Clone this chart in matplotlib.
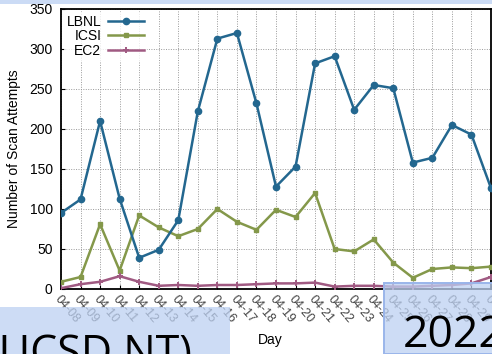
import matplotlib
matplotlib.use("Agg")
import matplotlib.pyplot as plt
from matplotlib.patches import Rectangle

plt.rcParams["font.family"] = ["Liberation Sans", "DejaVu Sans"]

days = ["04-08", "04-09", "04-10", "04-11", "04-12", "04-13", "04-14", "04-15",
        "04-16", "04-17", "04-18", "04-19", "04-20", "04-21", "04-22", "04-23",
        "04-24", "04-25", "04-26", "04-27", "04-28", "04-29", "04-30"]
lbnl = [95, 112, 210, 113, 39, 49, 86, 222, 313, 320, 232, 128, 153, 282, 291,
        224, 255, 251, 158, 164, 205, 193, 126]
icsi = [9, 15, 81, 23, 92, 77, 66, 75, 100, 84, 74, 99, 90, 120, 50, 47, 62, 33,
        14, 25, 27, 26, 28]
ec2 = [1, 6, 9, 16, 9, 4, 5, 4, 5, 5, 6, 7, 7, 8, 3, 4, 4, 3, 3, 4, 5, 7, 15]

fig = plt.figure(figsize=(4.92, 3.54), dpi=100)
ax = fig.add_axes([61 / 492, 65 / 354, 430 / 492, 280 / 354])

x = list(range(len(days)))
ax.plot(x, lbnl, color="#23678f", lw=1.8, marker="o", ms=4.5, label="LBNL", zorder=4)
ax.plot(x, icsi, color="#84984a", lw=1.8, marker="s", ms=3.2, label="ICSI", zorder=3)
ax.plot(x, ec2, color="#a05a82", lw=1.8, marker="+", ms=5, mew=1.4, label="EC2", zorder=3)

ax.set_xlim(0, len(days) - 1)
ax.set_ylim(0, 350)
ax.set_yticks(range(0, 351, 50))
ax.set_xticks(x)
ax.set_xticklabels(days, rotation=-50, ha="left", va="top",
                   rotation_mode="anchor", color="#444444", fontsize=9)
ax.tick_params(axis="y", labelsize=10, direction="in", length=3, pad=6)
ax.tick_params(axis="x", direction="in", length=3, pad=3)
ax.grid(True, color="#999999", linestyle=(0, (1, 1.5)), linewidth=0.7)
for s in ax.spines.values():
    s.set_linewidth(1.3)

ax.set_ylabel("Number of Scan Attempts", fontsize=10, labelpad=6)
fig.text(270 / 492, 1 - 340 / 354, "Day", ha="center", va="center", fontsize=10)

leg = ax.legend(loc="upper left", markerfirst=False, frameon=True, fontsize=10,
                handlelength=2.6, handletextpad=0.5, labelspacing=0.05,
                borderpad=0.2, borderaxespad=0.2, fancybox=False)
leg.get_frame().set_linewidth(0)

# banner strips and tags over the chart
fig.patches.append(Rectangle((0, 1 - 4 / 354), 1, 4 / 354, transform=fig.transFigure,
                             facecolor="#cbdbf5", edgecolor="none", zorder=10))
fig.patches.append(Rectangle((0, 0), 230 / 492, 47 / 354, transform=fig.transFigure,
                             facecolor=(0.74, 0.82, 0.95, 0.75), edgecolor="none", zorder=10))
fig.patches.append(Rectangle((384 / 492, 0), 110 / 492, 71 / 354, transform=fig.transFigure,
                             facecolor=(0.74, 0.82, 0.95, 0.75), edgecolor="#9ab5ea",
                             linewidth=1.4, zorder=10))
fig.text(-14 / 492, -12 / 354, "(UCSD NT)", family="Open Sans", fontsize=31,
         ha="left", va="baseline", color="black", zorder=11)
fig.text(403 / 492, 7 / 354, "2022", family="Open Sans", fontsize=32,
         ha="left", va="baseline", color="black", zorder=11)

fig.savefig("out.png", dpi=100)
